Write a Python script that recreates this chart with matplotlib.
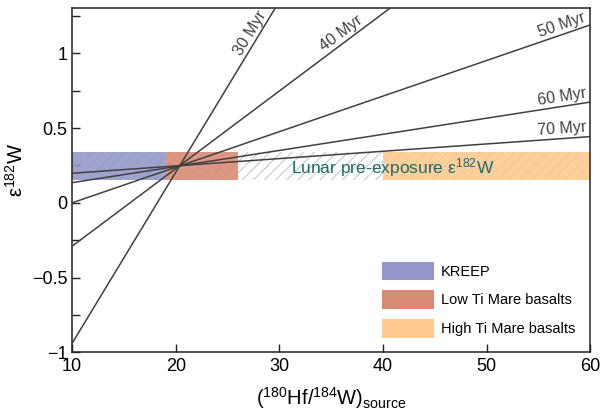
"""Hf/W isochrons vs lunar pre-exposure epsilon-182W."""
import numpy as np
import matplotlib
matplotlib.use('Agg')
import matplotlib.pyplot as plt
from matplotlib.patches import Patch

plt.rcParams['font.family'] = ['Liberation Sans', 'DejaVu Sans']
plt.rcParams['mathtext.fontset'] = 'custom'
plt.rcParams['mathtext.rm'] = 'Liberation Sans'
plt.rcParams['mathtext.it'] = 'Liberation Sans:italic'
plt.rcParams['mathtext.default'] = 'regular'
plt.rcParams['hatch.linewidth'] = 0.6

# isochron ages and their eps182W at x=10 and x=60
AGES = [30, 40, 50, 60, 70]
EPS_AT_10 = [-0.94, -0.29, 0.0, 0.135, 0.198]
EPS_AT_60 = [4.78, 2.305, 1.19, 0.674, 0.443]
X_ENDS = [10, 60]

# pre-exposure band
BAND_LO, BAND_HI = 0.155, 0.34
GROUPS = ['KREEP', 'Low Ti Mare basalts', 'High Ti Mare basalts']
GROUP_X0 = [10, 19, 40]
GROUP_X1 = [19, 26, 60]
GROUP_COLORS = ['#9496c9', '#d98a72', '#fdc98c']

LINE_C = '#404040'

fig = plt.figure(figsize=(6.01, 4.17), dpi=100)
ax = fig.add_axes([0.1198, 0.1547, 0.8627, 0.8252])
ax.set_xlim(10, 60)
ax.set_ylim(-1, 1.3)

# hatched band across the full range
ax.fill_between(X_ENDS, BAND_LO, BAND_HI, facecolor='none', edgecolor='#a9c0c5',
                hatch='///', lw=0, zorder=1)
for x0, x1, c in zip(GROUP_X0, GROUP_X1, GROUP_COLORS):
    ax.fill_between([x0, x1], BAND_LO, BAND_HI, color=c, alpha=0.88, lw=0, zorder=2)

ax.text(40.9, 0.236, 'Lunar pre-exposure ε$^{182}$W', color='#1f6a6a', fontsize=12.5,
        ha='center', va='center', zorder=3)

for age, y0, y1 in zip(AGES, EPS_AT_10, EPS_AT_60):
    ax.plot(X_ENDS, [y0, y1], color=LINE_C, lw=1.1, zorder=4)

fig.canvas.draw()


def label_line(x, y0, y1, text, ha):
    yl = y0 + (y1 - y0) * (x - 10) / 50
    p0 = ax.transData.transform((10, y0))
    p1 = ax.transData.transform((60, y1))
    ang = np.degrees(np.arctan2(p1[1] - p0[1], p1[0] - p0[0]))
    ax.annotate(text, (x, yl), xytext=(0, 1.5), textcoords='offset points',
                rotation=ang, rotation_mode='anchor', ha=ha, va='bottom',
                color=LINE_C, fontsize=11.5, zorder=5)


label_line(27.8, EPS_AT_10[0], EPS_AT_60[0], '30 Myr', 'center')
label_line(36.4, EPS_AT_10[1], EPS_AT_60[1], '40 Myr', 'center')
for i in (2, 3, 4):
    label_line(59.7, EPS_AT_10[i], EPS_AT_60[i], f'{AGES[i]} Myr', 'right')

handles = [Patch(facecolor=c, edgecolor='none') for c in GROUP_COLORS]
ax.legend(handles, GROUPS, loc='upper left', bbox_to_anchor=(0.597, 0.264),
          frameon=False, fontsize=10.5, handlelength=3.6, handleheight=1.6,
          labelspacing=0.68, handletextpad=0.45, borderpad=0, borderaxespad=0)

ax.set_xticks([10, 20, 30, 40, 50, 60])
ax.set_yticks([-1, -0.5, 0, 0.5, 1])
ax.set_yticklabels(['\u22121', '\u22120.5', '0', '0.5', '1'])
ax.set_yticks(np.arange(-0.75, 1.3, 0.5), minor=True)
ax.tick_params(which='both', direction='in', length=6, width=1, labelsize=13,
               color='#222222')
ax.tick_params(axis='x', pad=4)
for s in ax.spines.values():
    s.set_color('#222222')
    s.set_linewidth(1.1)

ax.set_xlabel('($^{180}$Hf/$^{184}$W)$_{\\rm source}$', fontsize=14.5, labelpad=7)
ax.set_ylabel('ε$^{182}$W', fontsize=14.5)
ax.yaxis.set_label_coords(-0.087, 0.53)

fig.savefig('out.png', dpi=100)
